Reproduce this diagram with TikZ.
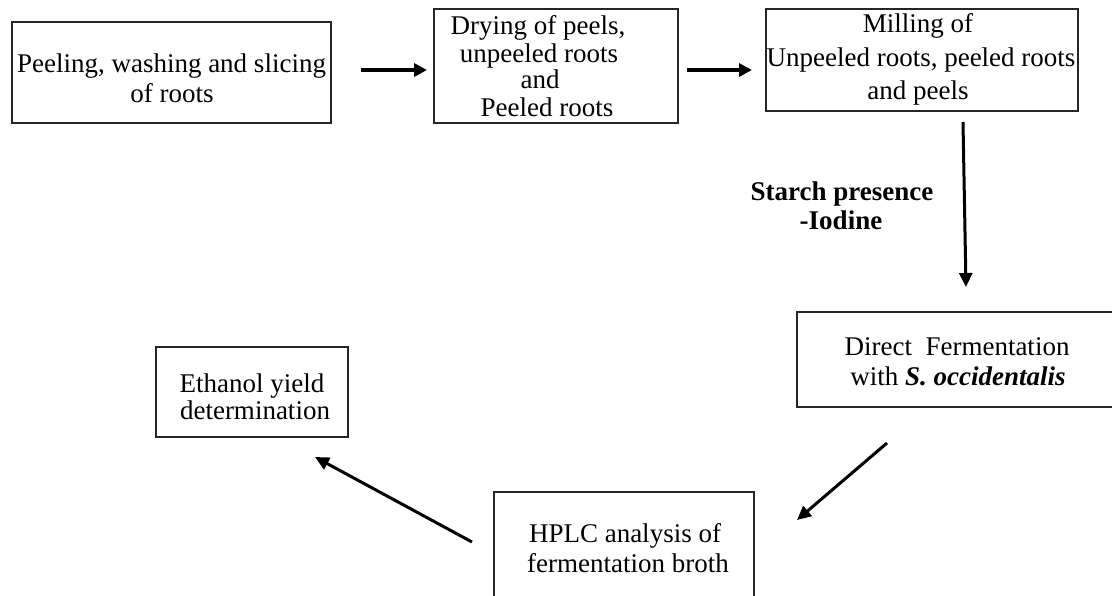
\documentclass[tikz,border=0pt]{standalone}
\usepackage{fontspec}
\setmainfont{Liberation Serif}
\usetikzlibrary{arrows.meta}

\begin{document}
\begin{tikzpicture}[x=1pt,y=-1pt,
  stepbox/.style={draw=black!85,line width=1.2pt,inner sep=0pt,rectangle},
  txt/.style={anchor=base,inner sep=0pt,font=\fontsize{27}{31}\selectfont},
  btxt/.style={txt,font=\fontsize{27}{31}\selectfont\bfseries},
  flow/.style={line width=3.5pt,-{Triangle[length=13pt,width=13pt]}},
  flowthin/.style={line width=3pt,-{Triangle[length=14pt,width=13pt]}}]
\useasboundingbox (0,0) rectangle (1112,595);
\clip (0,0) rectangle (1112,595);

% process boxes
\node[stepbox,minimum width=319pt,minimum height=101pt] (prep) at (171.5,72.5) {};
\node[stepbox,minimum width=244pt,minimum height=114pt] (dry) at (556,66) {};
\node[stepbox,minimum width=312pt,minimum height=102pt] (mill) at (922,60) {};
\node[stepbox,minimum width=343pt,minimum height=95pt] (ferm) at (968.5,359.5) {};
\node[stepbox,minimum width=260pt,minimum height=130pt] (hplc) at (624,557) {};
\node[stepbox,minimum width=192pt,minimum height=90pt] (yield) at (252,392) {};

% box texts
\node[txt] (prep1) at (171.5,72) {Peeling, washing and slicing};
\node[txt] (prep2) at (172,102) {of roots};

\node[txt] (dry1) at (538,34) {Drying of peels,};
\node[txt] (dry2) at (539,62) {unpeeled roots};
\node[txt] (dry3) at (540,88) {and};
\node[txt] (dry4) at (547,116) {Peeled roots};

\node[txt] (mill1) at (918,32) {Milling of};
\node[txt] (mill2) at (921,66) {Unpeeled roots, peeled roots};
\node[txt] (mill3) at (918,99) {and peels};

\node[btxt] (starch1) at (842,200) {Starch presence};
\node[btxt] (starch2) at (841,229) {-Iodine};

\node[txt] (ferm1) at (957,355) {Direct\ \ Fermentation};
\node[txt] (ferm2) at (958,385) {with \textbf{\textit{S. occidentalis}}};

\node[txt] (hplc1) at (625,542) {HPLC analysis of};
\node[txt] (hplc2) at (628,572) {fermentation broth};

\node[txt] (yield1) at (252,392) {Ethanol yield};
\node[txt] (yield2) at (255,419) {determination};

% arrow end points
\coordinate (a1s) at (361,70);  \coordinate (a1e) at (427,70);
\coordinate (a2s) at (687,70);  \coordinate (a2e) at (752,70);
\coordinate (a3s) at (963,122); \coordinate (a3e) at (966,287);
\coordinate (a4s) at (887,443); \coordinate (a4e) at (797,520);
\coordinate (a5s) at (472,542); \coordinate (a5e) at (315,457);

% connectors
\draw[flow] (a1s) -- (a1e);
\draw[flow] (a2s) -- (a2e);
\draw[flowthin] (a3s) -- (a3e);
\draw[flowthin] (a4s) -- (a4e);
\draw[flowthin] (a5s) -- (a5e);
\end{tikzpicture}
\end{document}
